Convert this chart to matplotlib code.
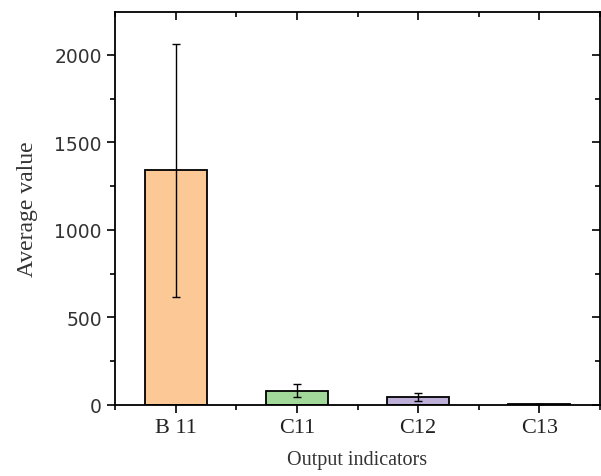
import numpy as np
import matplotlib.pyplot as plt
from matplotlib.ticker import MultipleLocator

# data
categories = ['B 11', 'C11', 'C12', 'C13']
means = [1340, 82, 45, 6]
errors = [725, 37, 22, 2]
colors = ['#FCC896', '#A2D89A', '#BDAFD8', '#9EC3E6']

fig = plt.figure(figsize=(6.01, 4.77), dpi=100)
ax = fig.add_axes([115 / 601, 71 / 477, 485 / 601, 393 / 477])

x = np.arange(1, len(categories) + 1)
ax.bar(x, means, width=0.51, color=colors, edgecolor='black', linewidth=1.3, zorder=2)
ax.errorbar(x, means, yerr=errors, fmt='none', ecolor='black', elinewidth=1.0,
            capsize=3, capthick=1.0, zorder=3)

ax.set_xlim(0.5, 4.5)
ax.set_ylim(0, 2245)
ax.set_xticks(x)
ax.set_xticklabels(categories, family='Liberation Serif', fontsize=16, color='#222222')
ax.xaxis.set_minor_locator(MultipleLocator(0.5))
ax.yaxis.set_major_locator(MultipleLocator(500))
ax.yaxis.set_minor_locator(MultipleLocator(250))
for lab in ax.get_yticklabels():
    lab.set_family('DejaVu Sans')
    lab.set_fontsize(13.5)
    lab.set_color('#333333')

ax.tick_params(which='both', top=True, right=True, width=1.2)
ax.tick_params(which='major', length=6)
ax.tick_params(which='minor', length=3.5)
ax.tick_params(axis='x', which='both', direction='out')
ax.tick_params(axis='y', which='both', direction='out')
ax.tick_params(which='both', labeltop=False, labelright=False)
# top/right ticks point inward
for t in ax.xaxis.get_major_ticks() + ax.xaxis.get_minor_ticks():
    t.tick2line.set_marker(3)
for t in ax.yaxis.get_major_ticks() + ax.yaxis.get_minor_ticks():
    t.tick2line.set_marker(0)
for s in ax.spines.values():
    s.set_linewidth(1.3)

ax.set_xlabel('Output indicators', family='Liberation Serif', fontsize=14.5,
              color='#333333', labelpad=9)
ax.set_ylabel('Average value', family='Liberation Serif', fontsize=17,
              color='#333333', labelpad=12)

fig.savefig('out.png', dpi=100)
